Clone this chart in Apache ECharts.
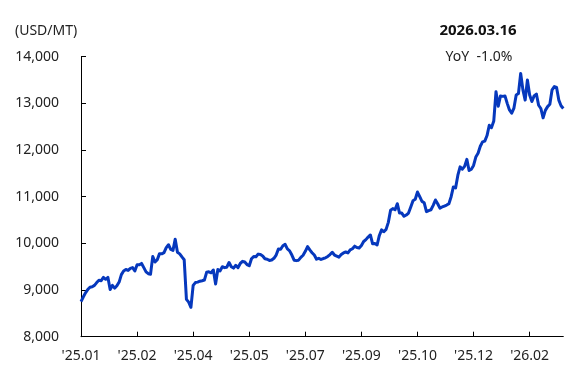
<!DOCTYPE html>
<html>
<head>
<meta charset="utf-8">
<script src="https://cdn.jsdelivr.net/npm/echarts@6/dist/echarts.min.js"></script>
<style>
  html, body { margin: 0; padding: 0; background: #fff; }
  #chart { width: 566px; height: 371px; }
</style>
</head>
<body>
<div id="chart"></div>
<script>
// Daily price, USD per metric ton
const prices = [
  8750, 8850, 8940, 9010, 9060, 9070, 9100, 9160, 9210, 9200,
  9270, 9230, 9270, 9010, 9100, 9040, 9090, 9170, 9330, 9410,
  9440, 9420, 9465, 9480, 9410, 9540, 9540, 9570, 9480, 9390,
  9350, 9340, 9720, 9600, 9650, 9780, 9775, 9800, 9910, 9970,
  9870, 9850, 10090, 9810, 9775, 9710, 9650, 8800, 8740, 8630,
  9100, 9160, 9170, 9190, 9200, 9214, 9380, 9390, 9370, 9430,
  9130, 9440, 9410, 9500, 9480, 9490, 9590, 9500, 9470, 9530,
  9480, 9570, 9615, 9600, 9545, 9520, 9670, 9720, 9714, 9770,
  9760, 9729, 9670, 9660, 9635, 9643, 9680, 9750, 9880, 9875,
  9950, 9980, 9880, 9840, 9750, 9640, 9630, 9640, 9700, 9745,
  9830, 9930, 9860, 9800, 9750, 9660, 9680, 9655, 9675, 9690,
  9720, 9760, 9810, 9750, 9728, 9705, 9760, 9795, 9815, 9795,
  9860, 9885, 9940, 9910, 9900, 9955, 10040, 10080, 10135, 10180,
  9990, 9995, 9965, 10170, 10290, 10250, 10300, 10450, 10710, 10745,
  10720, 10850, 10650, 10650, 10580, 10607, 10650, 10780, 10915, 10945,
  11100, 11000, 10900, 10870, 10680, 10703, 10720, 10815, 10930, 10850,
  10755, 10780, 10800, 10820, 10850, 11000, 11210, 11190, 11460, 11640,
  11590, 11650, 11800, 11560, 11590, 11670, 11850, 11930, 12080, 12175,
  12190, 12310, 12530, 12480, 12620, 13250, 12940, 13160, 13150, 13160,
  13000, 12860, 12790, 12900, 13180, 13210, 13640, 13290, 13070, 13500,
  13180, 13040, 13160, 13200, 12960, 12890, 12690, 12850, 12930, 12980,
  13290, 13360, 13340, 13070, 12950, 12890
];

// Month labels shown every 25 trading days
const tickLabels = ["'25.01", "'25.02", "'25.04", "'25.05", "'25.07", "'25.09", "'25.10", "'25.12", "'26.02"];
const labelStep = 25;

const yTicks = { min: 8000, max: 14000, step: 1000 };
const unitLabel = '(USD/MT)';
const dateLabel = '2026.03.16';
const yoyLabel = 'YoY  -1.0%';

const days = prices.map((_, i) => i);

const FONT = '"Noto Sans", "Open Sans", sans-serif';
const chart = echarts.init(document.getElementById('chart'), null, { renderer: 'canvas' });

chart.setOption({
  animation: false,
  backgroundColor: '#ffffff',
  textStyle: { fontFamily: FONT },
  grid: { left: 81, top: 56.7, width: 482.3, height: 280, containLabel: false },
  graphic: [
    { type: 'text', left: 15, top: 24, style: { text: unitLabel, font: '14px ' + FONT, fill: '#222' } },
    { type: 'text', x: 478, y: 31, style: { text: dateLabel, font: 'bold 15px ' + FONT, fill: '#111', align: 'center', verticalAlign: 'middle' } },
    { type: 'text', x: 479, y: 57, style: { text: yoyLabel, font: '14px ' + FONT, fill: '#222', align: 'center', verticalAlign: 'middle' } }
  ],
  xAxis: {
    type: 'category',
    data: days,
    boundaryGap: false,
    axisLine: { lineStyle: { color: '#000', width: 1 } },
    axisTick: { inside: true, length: 5, interval: labelStep - 1, lineStyle: { color: '#000' } },
    axisLabel: {
      interval: labelStep - 1,
      margin: 12,
      fontSize: 14,
      color: '#222',
      fontFamily: FONT,
      formatter: (v, idx) => tickLabels[Math.round(idx / labelStep)] || ''
    },
    splitLine: { show: false }
  },
  yAxis: {
    type: 'value',
    min: yTicks.min,
    max: yTicks.max,
    interval: yTicks.step,
    axisLine: { show: true, lineStyle: { color: '#000', width: 1 } },
    axisTick: { show: true, inside: true, length: 5, lineStyle: { color: '#000' } },
    axisLabel: {
      margin: 22,
      fontSize: 14,
      color: '#222',
      fontFamily: FONT,
      formatter: v => v.toLocaleString('en-US')
    },
    splitLine: { show: false }
  },
  series: [{
    type: 'line',
    data: prices,
    showSymbol: false,
    symbol: 'none',
    lineStyle: { color: '#0638bd', width: 3, join: 'round' },
    emphasis: { disabled: true }
  }]
});
</script>
</body>
</html>
